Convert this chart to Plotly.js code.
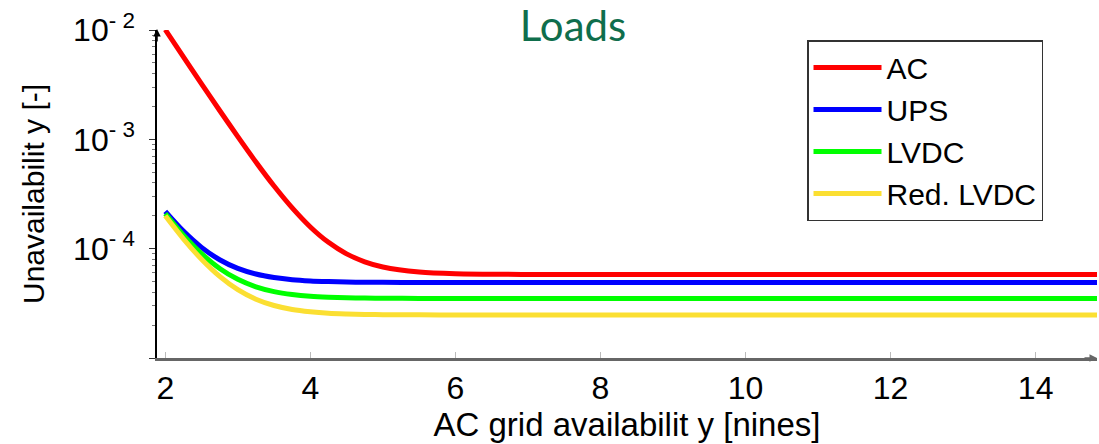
<!DOCTYPE html>
<html><head><meta charset="utf-8">
<script src="https://cdn.plot.ly/plotly-3.0.1.min.js"></script>
<style>html,body{margin:0;padding:0;background:#fff}#chart{width:1099px;height:444px}</style>
</head><body><div id="chart"></div>
<script>
// AC grid availability [nines]
const gridNines = [2, 2.25, 2.5, 2.75, 3, 3.25, 3.5, 3.75, 4, 4.25, 4.5, 4.75, 5, 5.5, 6, 7, 8, 10, 12, 15];
// Unavailability [-] per configuration
const acU      = [1.006e-2, 5.68e-3, 3.22e-3, 1.836e-3, 1.058e-3, 6.2e-4, 3.74e-4, 2.36e-4, 1.58e-4, 1.142e-4, 8.96e-5, 7.58e-5, 6.8e-5, 6.12e-5, 5.9e-5, 5.81e-5, 5.8e-5, 5.8e-5, 5.8e-5, 5.8e-5];
const upsU     = [2.19e-4, 1.446e-4, 1.028e-4, 7.92e-5, 6.6e-5, 5.86e-5, 5.44e-5, 5.2e-5, 5.07e-5, 5.0e-5, 4.95e-5, 4.93e-5, 4.92e-5, 4.91e-5, 4.9e-5, 4.9e-5, 4.9e-5, 4.9e-5, 4.9e-5, 4.9e-5];
const lvdcU    = [2.09e-4, 1.328e-4, 9.0e-5, 6.59e-5, 5.24e-5, 4.48e-5, 4.05e-5, 3.81e-5, 3.67e-5, 3.6e-5, 3.56e-5, 3.53e-5, 3.52e-5, 3.51e-5, 3.5e-5, 3.5e-5, 3.5e-5, 3.5e-5, 3.5e-5, 3.5e-5];
const redLvdcU = [2.0e-4, 1.231e-4, 8.0e-5, 5.58e-5, 4.22e-5, 3.45e-5, 3.02e-5, 2.78e-5, 2.65e-5, 2.57e-5, 2.53e-5, 2.5e-5, 2.49e-5, 2.48e-5, 2.47e-5, 2.47e-5, 2.47e-5, 2.47e-5, 2.47e-5, 2.47e-5];
const seriesNames = ['AC', 'UPS', 'LVDC', 'Red. LVDC'];

// tick labels
const xTickVals = [2, 4, 6, 8, 10, 12, 14];
const yTickVals = [1e-2, 1e-3, 1e-4, 1e-5];
const yTickText = ['10<sup>- 2</sup>', '10<sup>- 3</sup>', '10<sup>- 4</sup>', ' '];
const yMinorVals = [2e-5,3e-5,4e-5,5e-5,6e-5,7e-5,8e-5,9e-5,2e-4,3e-4,4e-4,5e-4,6e-4,7e-4,8e-4,9e-4,2e-3,3e-3,4e-3,5e-3,6e-3,7e-3,8e-3,9e-3];

const colors = ['#ff0000', '#0000ff', '#00ff00', '#fbdf32'];
const ys = [acU, upsU, lvdcU, redLvdcU];

const traces = ys.map((y, i) => ({
  type: 'scatter', mode: 'lines', x: gridNines, y: y, name: seriesNames[i],
  line: {color: colors[i], width: 5, shape: 'spline', smoothing: 0.8},
  legendgroup: 'g' + i
}));

const xRange = [1.886, 14.846];
const yRange = [-5, -2];
const FONT = 'Liberation Sans, Arial, sans-serif';

const layout = {
  width: 1099, height: 444,
  margin: {l: 157, r: 2, t: 30, b: 86},
  paper_bgcolor: '#fff', plot_bgcolor: '#fff',
  font: {family: FONT, size: 32, color: '#000'},
  showlegend: true,
  title: {text: 'Loads', font: {family: 'Lato, sans-serif', size: 42, color: '#0f6e4c'},
          x: 0.5214, xanchor: 'center', y: 0.94, yanchor: 'middle'},
  xaxis: {
    range: xRange, tickmode: 'array', tickvals: xTickVals,
    ticks: 'inside', ticklen: 6, tickcolor: '#bbb', tickwidth: 1,
    showline: true, linecolor: '#666', linewidth: 2.5,
    showgrid: false, zeroline: false,
    tickfont: {family: FONT, size: 32, color: '#000'},
    title: {text: 'AC grid availabilit y [nines]', font: {family: FONT, size: 33, color: '#000'}, standoff: 2}
  },
  xaxis2: {
    overlaying: 'x', anchor: 'y', range: xRange, tickmode: 'array', tickvals: xTickVals,
    ticks: 'outside', ticklen: 6, tickcolor: '#bbb', tickwidth: 1,
    showticklabels: false, showline: false, showgrid: false, zeroline: false
  },
  yaxis: {
    type: 'log', range: yRange, tickmode: 'array', tickvals: yTickVals, ticktext: yTickText,
    ticks: 'outside', ticklen: 6, tickcolor: '#333', tickwidth: 1,
    minor: {tickmode: 'array', tickvals: yMinorVals, ticks: 'outside', ticklen: 3, tickcolor: '#777', tickwidth: 1},
    showline: true, linecolor: '#000', linewidth: 1.5,
    showgrid: false, zeroline: false, ticklabelstandoff: 8,
    tickfont: {family: FONT, size: 32, color: '#000'},
    title: {text: 'Unavailabilit y [-]', font: {family: FONT, size: 30, color: '#000'}, standoff: 20}
  },
  yaxis2: {
    overlaying: 'y', anchor: 'x', type: 'log', range: yRange, tickmode: 'array', tickvals: yTickVals,
    ticks: 'inside', ticklen: 6, tickcolor: '#333', tickwidth: 1,
    minor: {tickmode: 'array', tickvals: yMinorVals, ticks: 'inside', ticklen: 5, tickcolor: '#777', tickwidth: 1},
    showticklabels: false, showline: false, showgrid: false, zeroline: false
  },
  legend: {
    x: 0.6915, y: 0.9695, xanchor: 'left', yanchor: 'top',
    bgcolor: '#fff', bordercolor: '#333', borderwidth: 1.5,
    font: {family: FONT, size: 30, color: '#000'},
    itemwidth: 68, tracegroupgap: 0, traceorder: 'normal'
  },
  annotations: [
    {xref: 'paper', yref: 'paper', x: 0, y: 1.003, ax: 0, ay: 14, text: '', showarrow: true,
     arrowhead: 2, arrowsize: 1, arrowwidth: 1.5, arrowcolor: '#000'},
    {xref: 'paper', yref: 'paper', x: 1.0, y: 0, ax: -14, ay: 0, text: '', showarrow: true,
     arrowhead: 2, arrowsize: 1, arrowwidth: 1.5, arrowcolor: '#666'}
  ]
};

Plotly.newPlot('chart', traces, layout, {displayModeBar: false, responsive: false});
</script>
</body></html>
